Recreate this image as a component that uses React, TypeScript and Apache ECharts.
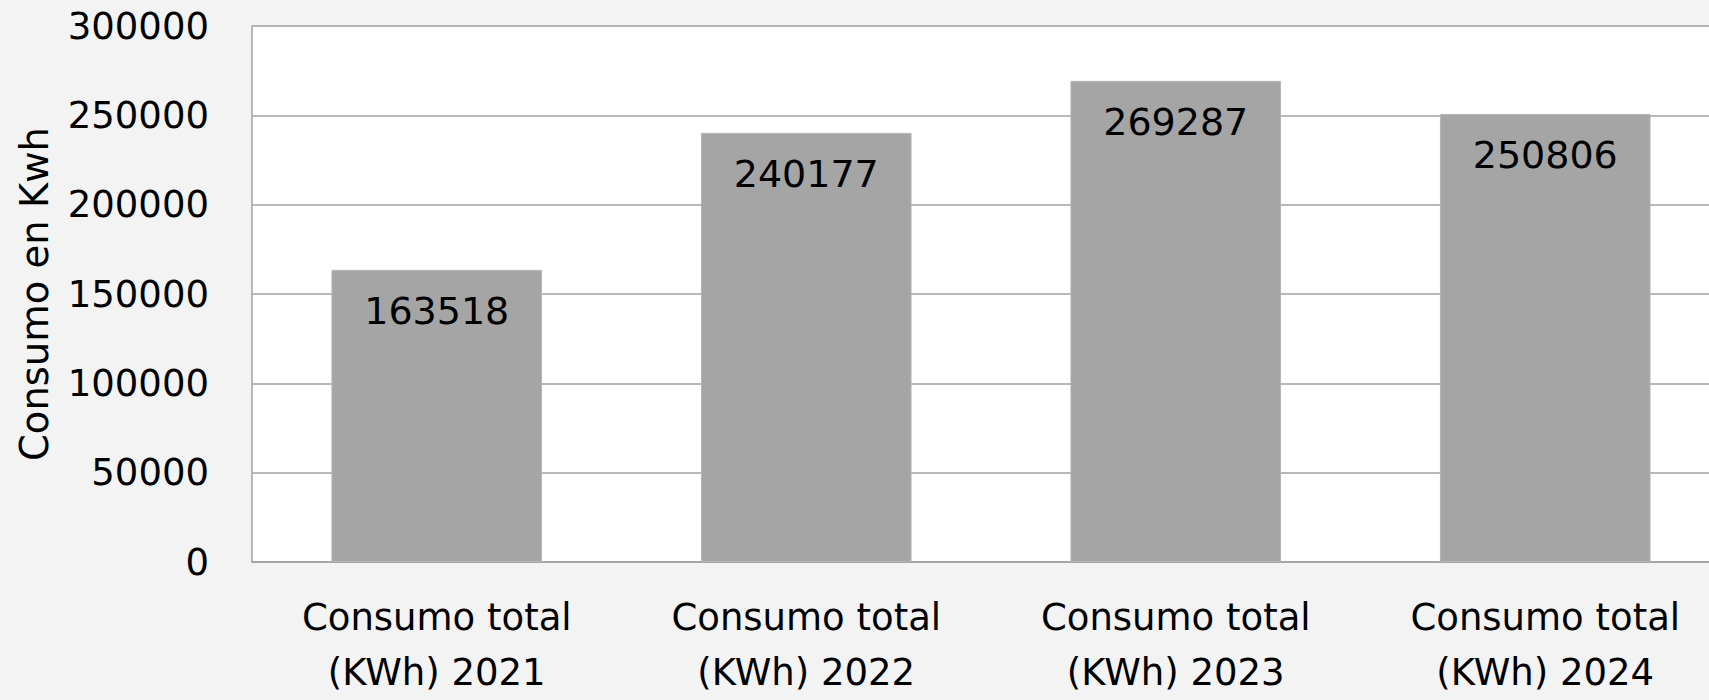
import React, { useEffect, useRef } from "react";
import * as echarts from "echarts";

const categories = [
  "Consumo total\n(KWh) 2021",
  "Consumo total\n(KWh) 2022",
  "Consumo total\n(KWh) 2023",
  "Consumo total\n(KWh) 2024",
];
const values = [163518, 240177, 269287, 250806];
const yTicks = { min: 0, max: 300000, interval: 50000 };
const yAxisTitle = "Consumo en Kwh";

const FONT = "DejaVu Sans";

export default function App() {
  const ref = useRef<HTMLDivElement>(null);
  useEffect(() => {
    if (!ref.current) return;
    const chart = echarts.init(ref.current, undefined, { renderer: "svg" });
    chart.setOption({
      animation: false,
      backgroundColor: "#f3f3f3",
      grid: {
        left: 252,
        top: 26,
        bottom: 134,
        right: 0,
        show: true,
        backgroundColor: "#ffffff",
        borderWidth: 0,
      },
      xAxis: {
        type: "category",
        data: categories,
        axisLine: { show: true, lineStyle: { color: "#a0a0a0", width: 1.5 } },
        axisTick: { show: false },
        axisLabel: {
          color: "#000",
          fontFamily: FONT,
          fontSize: 37,
          lineHeight: 55,
          margin: 28,
          interval: 0,
        },
      },
      yAxis: {
        type: "value",
        min: yTicks.min,
        max: yTicks.max,
        interval: yTicks.interval,
        name: yAxisTitle,
        nameLocation: "middle",
        nameGap: 198,
        nameTextStyle: {
          color: "#000",
          fontFamily: FONT,
          fontSize: 38.5,
        },
        axisLine: { show: true, lineStyle: { color: "#a0a0a0", width: 1.5 } },
        axisTick: { show: false },
        splitLine: { lineStyle: { color: "#a0a0a0", width: 1.5 } },
        axisLabel: {
          color: "#000",
          fontFamily: FONT,
          fontSize: 37,
          margin: 43,
          formatter: (v: number) => String(v),
        },
      },
      series: [
        {
          type: "bar",
          data: values,
          barWidth: "57%",
          itemStyle: { color: "#a5a5a5", borderColor: "#b5b5b5", borderWidth: 1 },
          label: {
            show: true,
            position: "insideTop",
            distance: 22,
            color: "#000",
            fontFamily: FONT,
            fontSize: 38,
          },
        },
      ],
    });
    return () => chart.dispose();
  }, []);
  return (
    <div
      style={{
        position: "absolute",
        left: 0,
        top: 0,
        width: 1709,
        height: 700,
        overflow: "hidden",
      }}
    >
      <div ref={ref} style={{ width: 1730, height: 700 }} />
    </div>
  );
}
